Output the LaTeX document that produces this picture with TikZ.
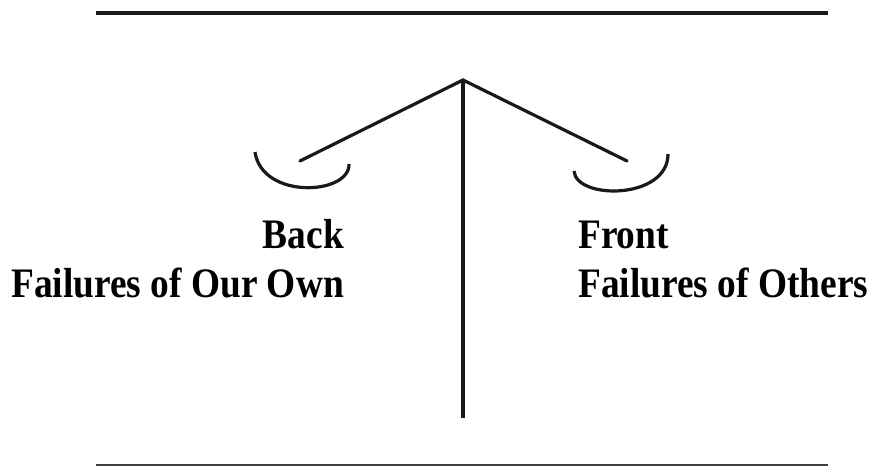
\documentclass[tikz,border=0pt]{standalone}
\usepackage{fontspec}
\setmainfont{Liberation Serif}
\begin{document}
\begin{tikzpicture}[x=1pt,y=-1pt,
  bar/.style={line width=3.2pt,black!90},
  lbl/.style={inner sep=0pt,xscale=0.89,font=\fontsize{42}{46}\selectfont\bfseries}]
\useasboundingbox (0,0) rectangle (873,468);
\coordinate (tl) at (96,13);
\coordinate (tr) at (828,13);
\coordinate (bl) at (96,465);
\coordinate (br) at (828,465);
\coordinate (apex) at (463,80);
\coordinate (foot) at (463,418);
\coordinate (la) at (300,161);
\coordinate (ra) at (627,161);
\draw[bar] (tl) -- (tr);
\draw[line width=2pt,black!75] (bl) -- (br);
\draw[bar,line cap=round] (la) -- (apex) -- (ra);
\draw[bar] (apex) -- (foot);
\draw[bar] (255,152) .. controls (262,200) and (350,195) .. (349,164);
\draw[bar] (574,171) .. controls (576,200) and (668,200) .. (668,154);
\node[lbl,anchor=base east] (back) at (344,248) {Back};
\node[lbl,anchor=base east] (own) at (344,297) {Failures of Our Own};
\node[lbl,anchor=base west] (front) at (578,248) {Front};
\node[lbl,anchor=base west] (others) at (578,297) {Failures of Others};
\end{tikzpicture}
\end{document}
